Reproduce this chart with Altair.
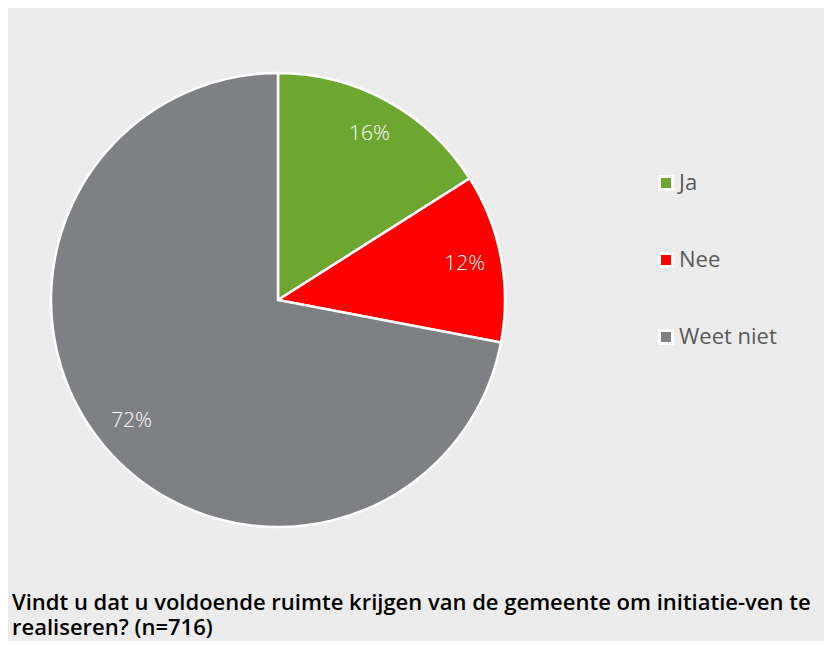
import altair as alt
import pandas as pd

categories = ["Ja", "Nee", "Weet niet"]
values = [16, 12, 72]
labels = ["16%", "12%", "72%"]
colors = ["#6EA72F", "#FF0000", "#7F8084"]
title_lines = [
    "Vindt u dat u voldoende ruimte krijgen van de gemeente om initiatie-ven te",
    "realiseren? (n=716)",
]

df = pd.DataFrame({"cat": categories, "val": values, "lab": labels, "ord": [0, 1, 2]})

FONT = "Open Sans"

base = alt.Chart(df).encode(
    theta=alt.Theta("val:Q", stack=True),
    order=alt.Order("ord:Q"),
    x=alt.value(270),
    y=alt.value(292),
)

pie = base.mark_arc(radius=227, stroke="white", strokeWidth=2.5).encode(
    color=alt.Color(
        "cat:N",
        scale=alt.Scale(domain=categories, range=colors),
        legend=alt.Legend(
            title=None,
            orient="none",
            legendX=647,
            legendY=164,
            symbolType="square",
            symbolSize=169,
            symbolStrokeColor="white",
            symbolStrokeWidth=3,
            symbolOpacity=1,
            labelFont=FONT,
            labelFontSize=22,
            labelColor="#595959",
            labelOffset=2,
            rowPadding=51,
            padding=0,
        ),
    )
)

text = base.mark_text(radius=190, font=FONT, fontSize=21, color="white", fontWeight=300).encode(
    text="lab:N"
)

chart = (
    (pie + text)
    .properties(
        width=816,
        height=576,
        padding={"left": 0, "top": 0, "right": 0, "bottom": 2},
        background="#ECECEC",
        title=alt.TitleParams(
            text=title_lines,
            orient="bottom",
            anchor="start",
            font=FONT,
            fontSize=22,
            fontWeight=600,
            color="black",
            lineHeight=25,
            offset=9,
            dx=4,
        ),
    )
    .configure_view(stroke=None)
)

chart.save("out.html", embed_options={"renderer": "svg", "actions": False})
